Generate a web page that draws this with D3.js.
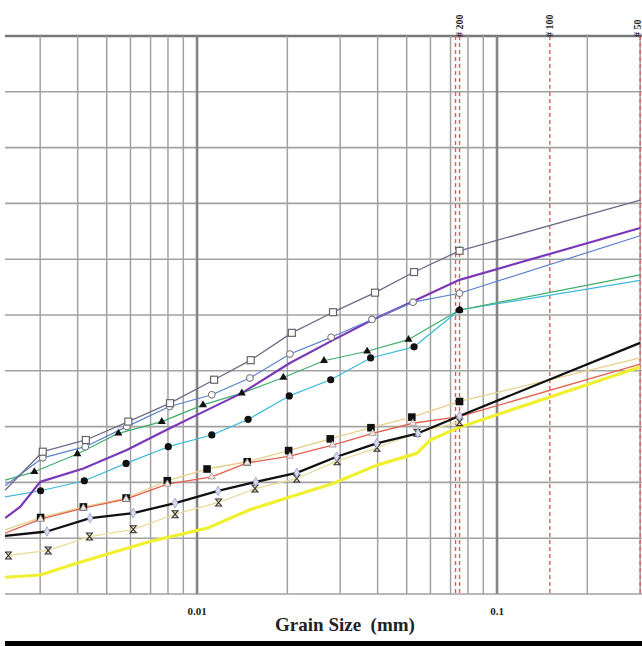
<!DOCTYPE html>
<html>
<head>
<meta charset="utf-8">
<script src="https://cdn.jsdelivr.net/npm/d3@7"></script>
<style>
  body { margin: 0; background: #fff; }
  svg { display: block; }
  text { font-family: "Liberation Serif", "Times New Roman", serif; font-weight: bold; fill: #222; }
</style>
</head>
<body>
<svg id="canvas" width="642" height="646"></svg>
<script>
// grid ticks
let gridSizes = [0.003, 0.004, 0.005, 0.006, 0.007, 0.008, 0.009, 0.01,
                 0.02, 0.03, 0.04, 0.05, 0.06, 0.07, 0.08, 0.09, 0.1, 0.2, 0.3]
let majorSizes = [0.01, 0.1]
let percentTicks = [0, 10, 20, 30, 40, 50, 60, 70, 80, 90, 100]
let axisLabels = ['0.01', '0.1']

// sieves
let sieveNames = ['# 200', '# 100', '# 50']
let sieveSizes = [0.075, 0.15, 0.3]

// open squares (grey line)
let sqSize = [0.00229, 0.00306, 0.00426, 0.0059, 0.00813, 0.0114, 0.0151, 0.0207, 0.0284, 0.0392, 0.0529, 0.075, 0.3]
let sqPass = [18.6, 25.5, 27.6, 30.9, 34.2, 38.4, 41.9, 46.8, 50.5, 54.0, 57.7, 61.5, 70.6]

// open circles (blue line)
let ocSize = [0.00229, 0.00306, 0.00424, 0.00583, 0.0081, 0.0112, 0.0150, 0.0204, 0.0280, 0.0383, 0.0525, 0.075, 0.3]
let ocPass = [19.4, 24.4, 26.4, 30.0, 33.6, 35.7, 38.7, 43.0, 46.0, 49.2, 52.3, 53.9, 64.2]

// purple line
let puSize = [0.00229, 0.00257, 0.003, 0.00418, 0.00583, 0.0079, 0.01, 0.0141, 0.0204, 0.0284, 0.0383, 0.0524, 0.075, 0.3]
let puPass = [13.6, 15.6, 20.1, 22.5, 25.8, 29.4, 32.1, 36.0, 41.4, 45.5, 49.1, 52.4, 56.3, 65.6]

// filled triangles (green line)
let trSize = [0.00229, 0.00287, 0.00399, 0.00547, 0.00763, 0.01047, 0.0141, 0.0194, 0.0265, 0.0369, 0.0507, 0.075, 0.3]
let trPass = [20.4, 21.9, 25.1, 28.8, 30.9, 33.9, 36.0, 38.8, 41.8, 43.5, 45.6, 50.9, 57.2]

// filled circles (cyan line)
let fcSize = [0.00229, 0.00301, 0.00421, 0.0058, 0.00802, 0.0112, 0.0148, 0.0203, 0.0279, 0.0379, 0.0529, 0.075, 0.3]
let fcPass = [17.4, 18.5, 20.3, 23.4, 26.4, 28.5, 31.3, 35.5, 38.4, 42.3, 44.3, 50.9, 56.2]

// filled squares (pale line)
let fsSize = [0.00229, 0.00301, 0.00418, 0.0058, 0.00796, 0.0108, 0.0147, 0.0202, 0.0278, 0.038, 0.052, 0.075, 0.3]
let fsPass = [11.5, 13.7, 15.6, 17.2, 20.3, 22.4, 23.7, 25.7, 27.8, 29.8, 31.7, 34.5, 42.3]

// open triangles (red line)
let otSize = [0.00229, 0.00301, 0.00418, 0.0058, 0.00796, 0.0112, 0.0147, 0.0204, 0.0283, 0.0385, 0.0524, 0.075, 0.3]
let otPass = [10.9, 13.4, 15.4, 17.0, 19.7, 21.0, 23.5, 24.7, 26.7, 28.8, 30.6, 31.8, 41.2]

// black line, open diamonds
let blSize = [0.00229, 0.00316, 0.0044, 0.00613, 0.00845, 0.01175, 0.0157, 0.0215, 0.0292, 0.0397, 0.0545, 0.075, 0.3]
let blPass = [10.4, 11.2, 13.6, 14.5, 16.3, 18.5, 20.1, 21.7, 24.6, 27.0, 28.8, 31.9, 45.0]

// hourglass markers (pale line)
let hgSize = [0.00235, 0.00319, 0.00438, 0.00613, 0.00845, 0.0118, 0.0156, 0.0215, 0.0293, 0.0398, 0.0541, 0.075]
let hgPass = [6.9, 7.8, 10.3, 11.6, 14.3, 16.4, 18.9, 20.7, 23.8, 26.2, 28.9, 30.8]

// yellow line
let yeSize = [0.00229, 0.003, 0.00397, 0.00513, 0.00697, 0.0108, 0.015, 0.0204, 0.0284, 0.0398, 0.054, 0.06, 0.075, 0.3]
let yePass = [3.0, 3.4, 5.5, 7.3, 9.4, 11.8, 15.1, 17.4, 19.8, 23.1, 25.2, 27.6, 29.9, 40.7]

let series = [
    {size: yeSize, pass: yePass, color: '#f0f030', width: 3.2, marker: null},
    {size: hgSize, pass: hgPass, color: '#e9dc9c', width: 1.3, marker: 'hourglass'},
    {size: fsSize, pass: fsPass, color: '#e6cf8a', width: 1.3, marker: 'fsquare'},
    {size: otSize, pass: otPass, color: '#e2604c', width: 1.3, marker: 'otriangle'},
    {size: blSize, pass: blPass, color: '#111111', width: 2.3, marker: 'diamond'},
    {size: fcSize, pass: fcPass, color: '#3cb8dc', width: 1.2, marker: 'fcircle'},
    {size: trSize, pass: trPass, color: '#3fae6a', width: 1.2, marker: 'ftriangle'},
    {size: puSize, pass: puPass, color: '#7a38b8', width: 2.2, marker: null},
    {size: ocSize, pass: ocPass, color: '#5a80cc', width: 1.2, marker: 'ocircle'},
    {size: sqSize, pass: sqPass, color: '#6c6c88', width: 1.3, marker: 'osquare'}
]

let canvas = d3.select('#canvas')

let x = d3.scaleLog().domain([0.00229, 0.3043]).range([5, 642])
let y = d3.scaleLinear().domain([0, 100]).range([594, 36])

// grid
canvas.selectAll('.hgrid')
    .data(percentTicks)
    .enter()
    .append('line')
    .attr('x1', 5).attr('x2', 642)
    .attr('y1', (p) => y(p)).attr('y2', (p) => y(p))
    .attr('stroke', (p) => p === 100 ? '#777' : '#a2a2a2')
    .attr('stroke-width', (p) => p === 100 ? 2.5 : 1.6)

canvas.selectAll('.vgrid')
    .data(gridSizes)
    .enter()
    .append('line')
    .attr('x1', (d) => x(d)).attr('x2', (d) => x(d))
    .attr('y1', 36).attr('y2', 594)
    .attr('stroke', (d) => majorSizes.includes(d) ? '#858585' : '#a2a2a2')
    .attr('stroke-width', (d) => majorSizes.includes(d) ? 2.6 : 1.5)

// sieve lines
sieveSizes.forEach((s, i) => {
    let offsets = i === 0 ? [-4, 0] : [0]
    offsets.forEach((o) => {
        canvas.append('line')
            .attr('x1', x(s) + o).attr('x2', x(s) + o)
            .attr('y1', 36).attr('y2', 594)
            .attr('stroke', '#e85a5a')
            .attr('stroke-width', 1.4)
            .attr('stroke-dasharray', '4,3')
    })
    canvas.append('text')
        .attr('transform', 'translate(' + Math.min(x(s) + 3, 641) + ',37) rotate(-90)')
        .attr('font-size', 10)
        .text(sieveNames[i])
})

// curves
let clip = canvas.append('clipPath').attr('id', 'plot')
clip.append('rect').attr('x', 5).attr('y', 36).attr('width', 637).attr('height', 558)

let plot = canvas.append('g').attr('clip-path', 'url(#plot)')

let line = d3.line()
    .x((p) => x(p[0]))
    .y((p) => y(p[1]))

series.forEach((s) => {
    let pts = s.size.map((d, i) => [d, s.pass[i]])
    plot.append('path')
        .attr('d', line(pts))
        .attr('fill', 'none')
        .attr('stroke', s.color)
        .attr('stroke-width', s.width)
        .attr('stroke-linejoin', 'round')
})

let drawMarker = (g, kind) => {
    if (kind === 'osquare') {
        g.append('rect').attr('x', -3.5).attr('y', -3.5).attr('width', 7).attr('height', 7)
            .attr('fill', '#fff').attr('stroke', '#666').attr('stroke-width', 1.2)
    } else if (kind === 'ocircle') {
        g.append('circle').attr('r', 3.3).attr('fill', '#fff').attr('stroke', '#777').attr('stroke-width', 1.1)
    } else if (kind === 'ftriangle') {
        g.append('path').attr('d', d3.symbol(d3.symbolTriangle, 28)()).attr('fill', '#111')
    } else if (kind === 'fcircle') {
        g.append('circle').attr('r', 3.6).attr('fill', '#111')
    } else if (kind === 'fsquare') {
        g.append('rect').attr('x', -3.8).attr('y', -3.8).attr('width', 7.6).attr('height', 7.6).attr('fill', '#111')
    } else if (kind === 'otriangle') {
        g.append('path').attr('d', d3.symbol(d3.symbolTriangle, 22)())
            .attr('fill', '#f4e6e0').attr('stroke', '#a09090').attr('stroke-width', 0.8)
    } else if (kind === 'diamond') {
        g.append('path').attr('d', d3.symbol(d3.symbolDiamond, 26)())
            .attr('fill', '#d8dcf0').attr('stroke', '#9098c0').attr('stroke-width', 0.8)
    } else if (kind === 'hourglass') {
        g.append('path').attr('d', 'M-3,-3.5L3,-3.5L-3,3.5L3,3.5Z')
            .attr('fill', '#e8dcc0').attr('stroke', '#333').attr('stroke-width', 1.1)
    }
}

series.forEach((s) => {
    if (!s.marker) return
    s.size.forEach((d, i) => {
        if (d < 0.0023 || d > 0.29) return
        let g = plot.append('g').attr('transform', 'translate(' + x(d) + ',' + y(s.pass[i]) + ')')
        drawMarker(g, s.marker)
    })
})

// axis labels
canvas.selectAll('.tick-label')
    .data(majorSizes)
    .enter()
    .append('text')
    .attr('x', (d) => x(d))
    .attr('y', 615)
    .attr('text-anchor', 'middle')
    .attr('font-size', 11)
    .text((d, i) => axisLabels[i])

canvas.append('text')
    .attr('x', 345)
    .attr('y', 631)
    .attr('text-anchor', 'middle')
    .attr('font-size', 19)
    .attr('xml:space', 'preserve')
    .text('Grain Size  (mm)')

// bottom bar
canvas.append('rect')
    .attr('x', 5).attr('y', 641).attr('width', 637).attr('height', 5)
    .attr('fill', '#000')
</script>
</body>
</html>
